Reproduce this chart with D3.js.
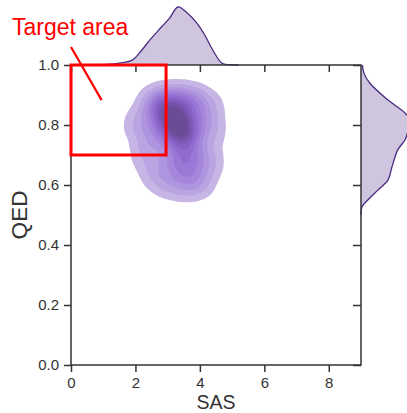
<!DOCTYPE html>
<html>
<head>
<meta charset="utf-8">
<script src="https://cdn.jsdelivr.net/npm/d3@7"></script>
<style>
  body { margin: 0; background: #fff; }
  svg { display: block; font-family: "Liberation Sans", Arial, sans-serif; }
</style>
</head>
<body>
<svg id="chart"></svg>
<script>
/* chart data */
// weighted sample points for the 2D density (SAS, QED, weight)
var sasPts = [3.2, 3.35, 3.5,
              2.9, 3.0, 3.6, 3.85, 3.8, 3.55, 3.15, 2.7,
              2.1, 2.3, 2.45, 2.8, 3.3, 3.8, 4.3, 4.35, 4.3, 4.05, 3.6, 3.0, 2.55];
var qedPts = [0.815, 0.785, 0.75,
              0.835, 0.865, 0.86, 0.80, 0.70, 0.655, 0.69, 0.77,
              0.80, 0.71, 0.865, 0.885, 0.89, 0.885, 0.86, 0.78, 0.68, 0.61, 0.60, 0.605, 0.64];
var ptWeights = [2.6, 2.6, 2,
                 1.5, 1.4, 1.4, 1.4, 1.4, 1.4, 1.4, 1.3,
                 1, 0.9, 0.9, 1, 1, 1, 0.9, 0.9, 0.9, 0.9, 1, 0.9, 0.8];
var levelFractions = [0.06, 0.14, 0.22, 0.30, 0.38, 0.46, 0.54, 0.62, 0.70, 0.79];

// marginal densities
var sasGrid = [0.5, 0.8, 1.2, 1.5, 1.9, 2.2, 2.45, 2.8, 3.06, 3.32, 3.6, 3.9, 4.15, 4.4, 4.68, 4.9, 5.2];
var sasDens = [0, 0.003, 0.008, 0.02, 0.05, 0.155, 0.26, 0.39, 0.485, 0.6, 0.54, 0.435, 0.31, 0.155, 0.02, 0.003, 0];
var qedGrid = [1.0, 0.973, 0.94, 0.883, 0.84, 0.805, 0.78, 0.75, 0.717, 0.66, 0.617, 0.583, 0.55, 0.527, 0.5];
var qedDens = [0.015, 0.03, 0.09, 0.28, 0.455, 0.54, 0.49, 0.455, 0.38, 0.32, 0.28, 0.175, 0.07, 0.01, 0];

var xTicks = [0, 2, 4, 6, 8];
var yTicks = [0, 0.2, 0.4, 0.6, 0.8, 1.0];
var target = { x0: 0, x1: 2.95, y0: 0.7, y1: 1.0 };

/* layout */
var width = 407;
var height = 413;
var plotLeft = 71, plotRight = 361, plotTop = 65, plotBottom = 365;

var svg = d3.select('#chart').attr('width', width).attr('height', height);

var x = d3.scaleLinear().domain([0, 9]).range([plotLeft, plotRight]);
var y = d3.scaleLinear().domain([0, 1]).range([plotBottom, plotTop]);
var topDens = d3.scaleLinear().domain([0, 0.6]).range([plotTop, 7]);
var rightDens = d3.scaleLinear().domain([0, 0.6]).range([plotRight, plotRight + 58]);

/* 2D density contours */
var points = sasPts.map(function(s, i){
    return { sas: s, qed: qedPts[i], w: ptWeights[i] };
});
var density = d3.contourDensity()
    .x(function(d){ return x(d.sas); })
    .y(function(d){ return y(d.qed); })
    .weight(function(d){ return d.w; })
    .size([width, height])
    .cellSize(2)
    .bandwidth(10);
var contour = density.contours(points);
var color = d3.interpolateRgbBasis(['#c6b5e5', '#a384dc', '#885ecb', '#6a4c96']);

svg.append('g')
    .selectAll('path')
    .data(levelFractions)
    .enter()
    .append('path')
    .attr('d', function(f){ return d3.geoPath()(contour(f * contour.max)); })
    .attr('fill', function(f, i){ return color(i / (levelFractions.length - 1)); });

/* marginals */
var topArea = d3.area()
    .x(function(d){ return x(d[0]); })
    .y0(plotTop)
    .y1(function(d){ return topDens(d[1]); })
    .curve(d3.curveCatmullRom);
var topLine = topArea.lineY1();
var topData = sasGrid.map(function(s, i){ return [s, sasDens[i]]; });

svg.append('path').attr('d', topArea(topData)).attr('fill', '#d0c5df');
svg.append('path').attr('d', topLine(topData)).attr('fill', 'none')
    .attr('stroke', '#4a2a82').attr('stroke-width', 1.3);

var rightArea = d3.area()
    .y(function(d){ return y(d[0]); })
    .x0(plotRight)
    .x1(function(d){ return rightDens(d[1]); })
    .curve(d3.curveCatmullRom);
var rightLine = rightArea.lineX1();
var rightData = qedGrid.map(function(q, i){ return [q, qedDens[i]]; });

svg.append('path').attr('d', rightArea(rightData)).attr('fill', '#d0c5df');
svg.append('path').attr('d', rightLine(rightData)).attr('fill', 'none')
    .attr('stroke', '#4a2a82').attr('stroke-width', 1.3);

/* axes */
function styleAxis(g){
    g.select('.domain').remove();
    g.selectAll('line').attr('stroke', '#333').attr('stroke-width', 1.5);
    g.selectAll('text').attr('fill', '#333').style('font-size', '15px')
        .style('font-family', '"Liberation Sans", Arial, sans-serif');
}

svg.append('g')
    .attr('transform', 'translate(0,' + plotBottom + ')')
    .call(d3.axisBottom(x).tickValues(xTicks).tickSize(7).tickPadding(5))
    .call(styleAxis);
svg.append('g')
    .attr('transform', 'translate(' + plotLeft + ',0)')
    .call(d3.axisLeft(y).tickValues(yTicks).tickSize(7).tickPadding(5).tickFormat(d3.format('.1f')))
    .call(styleAxis);
// inner ticks on top and right
svg.append('g')
    .attr('transform', 'translate(0,' + plotTop + ')')
    .call(d3.axisBottom(x).tickValues(xTicks).tickSize(7).tickFormat(''))
    .call(styleAxis);
svg.append('g')
    .attr('transform', 'translate(' + plotRight + ',0)')
    .call(d3.axisLeft(y).tickValues(yTicks).tickSize(8).tickFormat(''))
    .call(styleAxis);

svg.append('rect')
    .attr('x', plotLeft).attr('y', plotTop)
    .attr('width', plotRight - plotLeft).attr('height', plotBottom - plotTop)
    .attr('fill', 'none').attr('stroke', '#333').attr('stroke-width', 1.5);

svg.append('text')
    .attr('x', (plotLeft + plotRight) / 2).attr('y', 408.8)
    .attr('text-anchor', 'middle')
    .attr('fill', '#333').style('font-size', '19.5px')
    .text('SAS');
svg.append('text')
    .attr('transform', 'translate(27,' + (plotTop + plotBottom) / 2 + ') rotate(-90)')
    .attr('text-anchor', 'middle')
    .attr('fill', '#333').style('font-size', '22.5px')
    .text('QED');

/* target annotation */
svg.append('rect')
    .attr('x', x(target.x0)).attr('y', y(target.y1))
    .attr('width', x(target.x1) - x(target.x0))
    .attr('height', y(target.y0) - y(target.y1))
    .attr('fill', 'none').attr('stroke', '#ff0000').attr('stroke-width', 3);
svg.append('line')
    .attr('x1', x(0)).attr('y1', 47)
    .attr('x2', x(0.95)).attr('y2', y(0.883))
    .attr('stroke', '#ff0000').attr('stroke-width', 2.2);
svg.append('text')
    .attr('x', 12).attr('y', 35)
    .attr('fill', '#ff0000').style('font-size', '23px')
    .text('Target area');
</script>
</body>
</html>
